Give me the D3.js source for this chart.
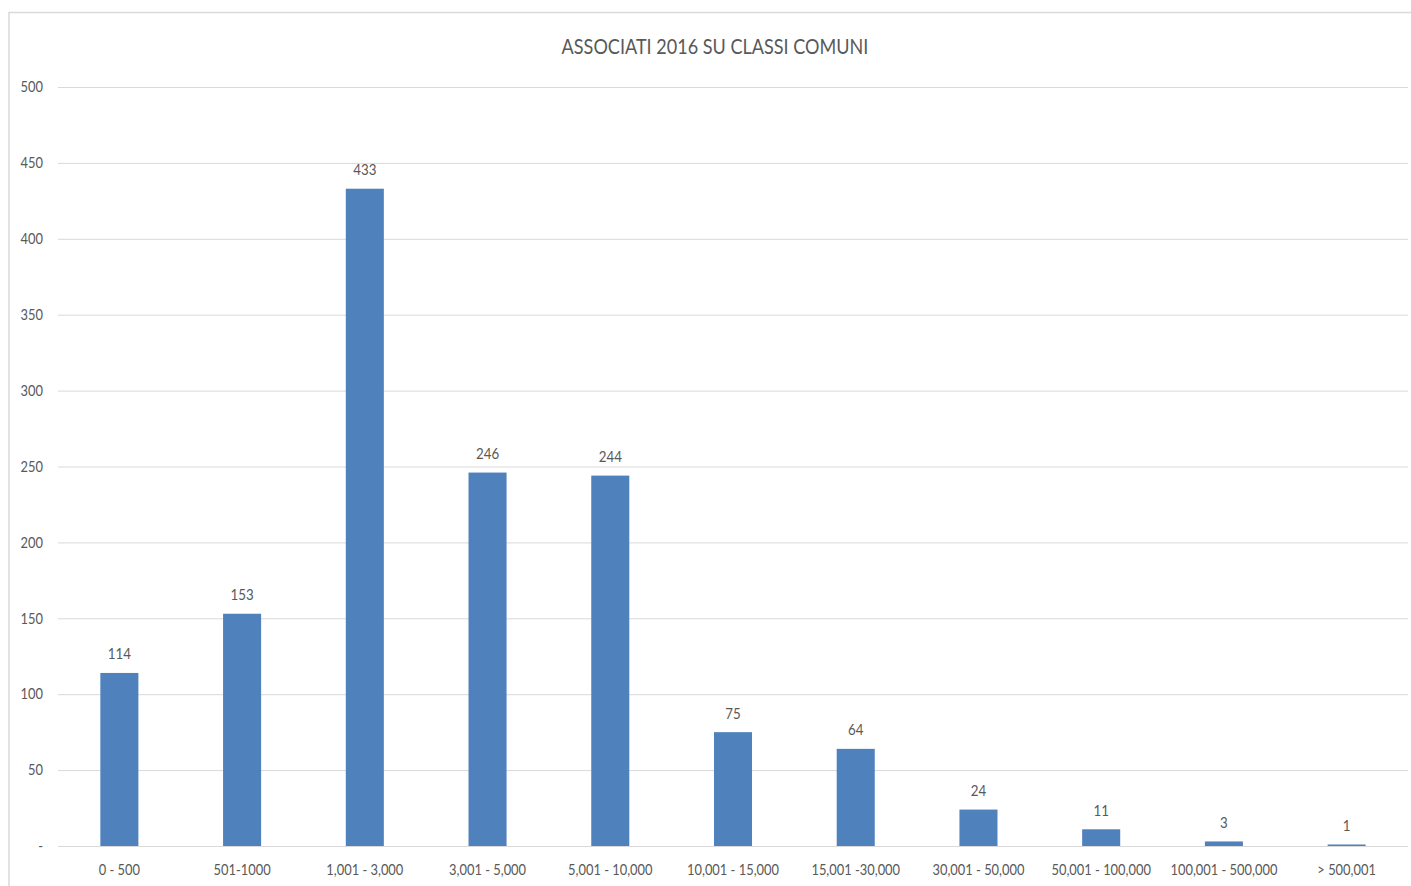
<!DOCTYPE html>
<html><head><meta charset="utf-8">
<script src="https://cdn.jsdelivr.net/npm/d3@7"></script>
<style>
html,body{margin:0;padding:0;background:#fff;}
svg{display:block;}
text{font-family:Lato,"Open Sans",sans-serif;fill:#595959;}
</style></head><body>
<svg id="c" width="1411" height="886"></svg>
<script>
const categories = ["0 - 500","501-1000","1,001 - 3,000","3,001 - 5,000","5,001 - 10,000","10,001 - 15,000","15,001 -30,000","30,001 - 50,000","50,001 - 100,000","100,001 - 500,000","> 500,001"];
const values = [114,153,433,246,244,75,64,24,11,3,1];
const yTicks = [0,50,100,150,200,250,300,350,400,450,500];
const title = "ASSOCIATI 2016 SU CLASSI COMUNI";

const SX = 0.86; // horizontal condensing to mimic the narrow original face
const svg = d3.select("#c");
svg.append("rect").attr("x",9).attr("y",12.5).attr("width",1420).attr("height",900)
  .attr("fill","#fff").attr("stroke","#d9d9d9").attr("stroke-width",1.5);

const pL=58, pR=1408, pT=87, pB=846;
const x = d3.scaleBand().domain(categories).range([pL,pR]).paddingInner(0.69).paddingOuter(0.345);
const y = d3.scaleLinear().domain([0,500]).range([pB,pT]);

function place(sel, fx, fy){
  sel.attr("transform",(d,i)=>`translate(${fx(d,i)},${fy(d,i)}) scale(${SX},1)`);
}

svg.append("g").selectAll("line").data(yTicks).join("line")
  .attr("x1",pL).attr("x2",pR).attr("y1",d=>y(d)+0.5).attr("y2",d=>y(d)+0.5)
  .attr("stroke","#d9d9d9").attr("stroke-width",1);

svg.append("g").selectAll("text").data(yTicks).join("text")
  .call(place, ()=>43, d=>y(d)).attr("dy","0.35em").attr("text-anchor","end")
  .attr("font-size",15).text(d=>d===0?"-":d);

svg.append("g").selectAll("rect").data(values).join("rect")
  .attr("x",(d,i)=>x(categories[i])).attr("width",x.bandwidth())
  .attr("y",d=>y(d)).attr("height",d=>pB-y(d)).attr("fill","#4F81BD");

svg.append("g").selectAll("text").data(values).join("text")
  .call(place, (d,i)=>x(categories[i])+x.bandwidth()/2, d=>y(d)-13.5)
  .attr("text-anchor","middle").attr("font-size",15.5).text(d=>d);

svg.append("g").selectAll("text").data(categories).join("text")
  .call(place, d=>x(d)+x.bandwidth()/2, ()=>875)
  .attr("text-anchor","middle").attr("font-size",15).text(d=>d);

svg.append("text").attr("transform",`translate(715,54) scale(${SX},1)`).attr("text-anchor","middle")
  .attr("font-size",21).text(title);
</script>
</body></html>
